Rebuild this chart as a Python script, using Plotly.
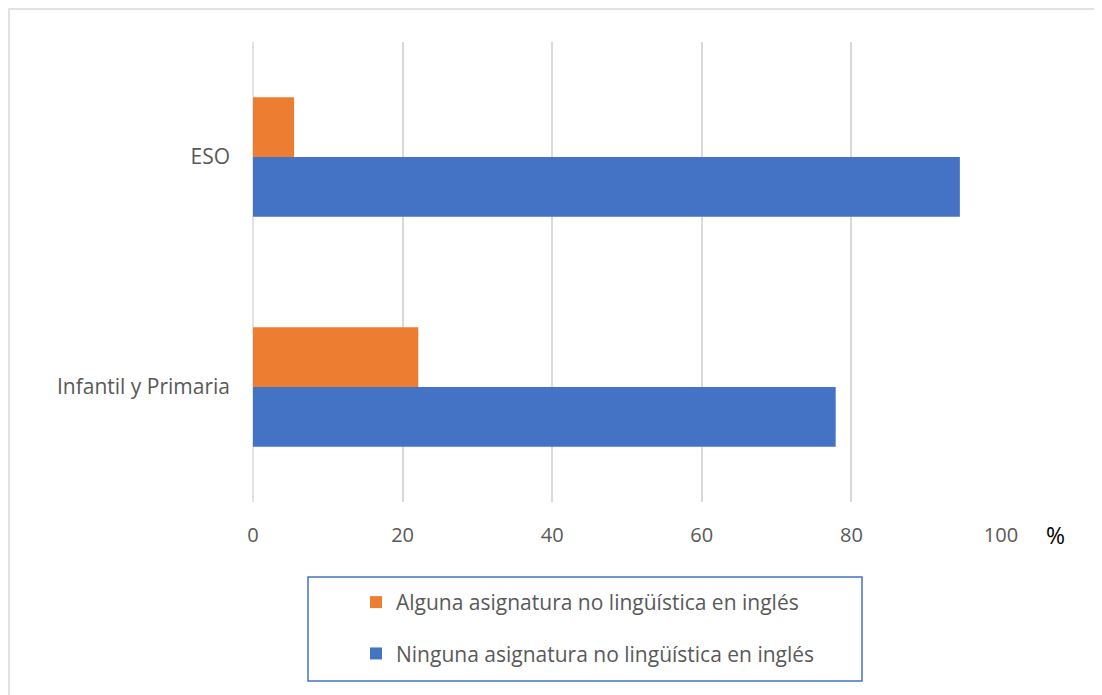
import plotly.graph_objects as go

categories = ["Infantil y Primaria", "ESO"]
ninguna = [77.9, 94.5]
alguna = [22.1, 5.5]
series_names = ["Ninguna asignatura no lingüística en inglés",
                "Alguna asignatura no lingüística en inglés"]
x_ticks = [0, 20, 40, 60, 80, 100]

FONT = "Open Sans"
OFF = 8  # page body margin
W, H = 1094, 687
L, R, T, B = 253 - OFF, 101, 42 - OFF, 193
PW = W - L - R
PH = H - T - B

def px(x):
    # viewport pixel -> paper coordinate
    return (x - OFF - L) / PW

def py(y):
    return (H - B - (y - OFF)) / PH

fig = go.Figure()
fig.add_trace(go.Bar(y=categories, x=ninguna, orientation="h", name=series_names[0],
                     marker=dict(color="#4472C4", line=dict(width=0)),
                     legendgroup="a", legendrank=2))
fig.add_trace(go.Bar(y=categories, x=alguna, orientation="h", name=series_names[1],
                     marker=dict(color="#ED7D31", line=dict(width=0)),
                     legendgroup="b", legendrank=1))

fig.update_layout(
    width=W, height=H,
    margin=dict(l=L, r=R, t=T, b=B, autoexpand=False),
    paper_bgcolor="white", plot_bgcolor="white",
    barmode="group", bargap=0.48, bargroupgap=0,
    font=dict(family=FONT, size=20, color="#595959"),
    showlegend=True,
    legend=dict(x=px(356), y=py(582), xanchor="left", yanchor="top",
                traceorder="grouped", tracegroupgap=21,
                font=dict(family=FONT, size=21, color="#595959"),
                bgcolor="rgba(0,0,0,0)", borderwidth=0),
    xaxis=dict(range=[0, 100], tickvals=x_ticks, ticktext=[str(v) for v in x_ticks],
               showgrid=True, gridcolor="#D9D9D9", gridwidth=1.5,
               zeroline=False, showline=False, ticks="",
               ticklabelstandoff=19, tickfont=dict(size=20, color="#595959")),
    yaxis=dict(categoryorder="array", categoryarray=categories,
               showgrid=False, zeroline=False, showline=False, ticks="",
               ticklabelstandoff=22, tickfont=dict(size=21, color="#595959")),
    shapes=[
        dict(type="line", xref="paper", yref="paper", x0=0, x1=0, y0=0, y1=1,
             line=dict(color="#D9D9D9", width=1.5), layer="below"),
        dict(type="rect", xref="paper", yref="paper",
             x0=px(9), x1=px(1120), y0=py(720), y1=py(9),
             line=dict(color="#D9D9D9", width=1.5)),
        dict(type="rect", xref="paper", yref="paper",
             x0=px(308), x1=px(862), y0=py(681), y1=py(577),
             line=dict(color="#4472C4", width=1.5)),
    ],
    annotations=[
        dict(text="%", xref="paper", yref="paper", x=px(1055), y=py(535),
             xanchor="center", yanchor="middle", showarrow=False,
             font=dict(family=FONT, size=23, color="#000000")),
    ],
)

fig.write_html("out.html")
